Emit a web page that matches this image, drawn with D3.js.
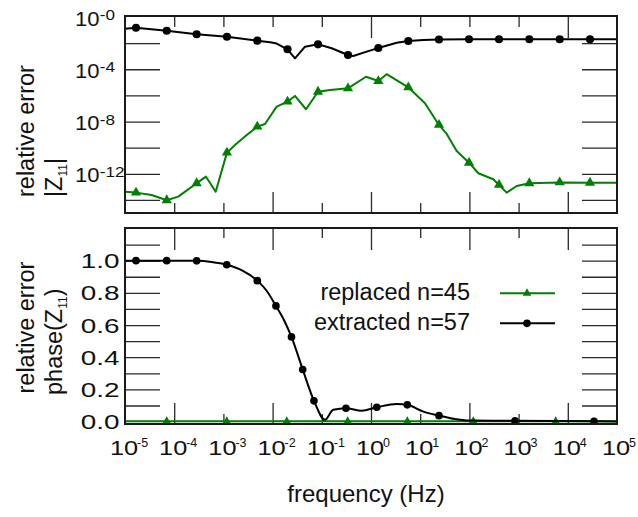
<!DOCTYPE html>
<html>
<head>
<meta charset="utf-8">
<script src="https://cdn.jsdelivr.net/npm/d3@7"></script>
<style>
  body { margin: 0; background: #fff; }
  text { font-family: "Liberation Sans", Arial, Helvetica, sans-serif; fill: #111; }
</style>
</head>
<body>
<svg id="chart" width="638" height="517"></svg>
<script>
// ---- data -------------------------------------------------------------

// shared frequency axis (Hz), one label per decade
const freqDecades = [1e-5, 1e-4, 1e-3, 1e-2, 1e-1, 1e0, 1e1, 1e2, 1e3, 1e4, 1e5];
const freqExponents = ["-5", "-4", "-3", "-2", "-1", "0", "1", "2", "3", "4", "5"];

// |Z11| panel: labelled ticks and their exponent text
const magLabelValues = [1, 1e-4, 1e-8, 1e-12];
const magExponents = ["-0", "-4", "-8", "-12"];
const magTickValues = [1e-2, 1e-4, 1e-6, 1e-8, 1e-10, 1e-12, 1e-14];

// phase panel ticks
const phaseLabelValues = [0, 0.2, 0.4, 0.6, 0.8, 1.0];
const phaseLabels = ["0.0", "0.2", "0.4", "0.6", "0.8", "1.0"];
const phaseTickValues = [0.1, 0.2, 0.3, 0.4, 0.5, 0.6, 0.7, 0.8, 0.9, 1.0, 1.1];

// relative error of |Z11|, extracted model (n=57)
const extractedMagFreq = [1e-5, 1.675e-5, 7.05e-5, 2.86e-4, 1.18e-3, 4.89e-3, 8.91e-3, 1.21e-2, 2.01e-2,
  2.85e-2, 4.56e-2, 8.38e-2, 0.159, 0.341, 0.437, 0.818, 1.41, 3.33, 5.73, 11.6, 24.1, 98.2, 400, 1652,
  6840, 28250, 1e5];
const extractedMag = [0.126, 0.149, 0.0891, 0.0479, 0.0309, 0.0155, 0.0117, 0.00933, 0.00339,
  6.92e-4, 5.37e-3, 8.13e-3, 4.07e-3, 1.23e-3, 1.05e-3, 2.24e-3, 4.27e-3, 0.0107, 0.0145, 0.0174, 0.0191,
  0.0200, 0.0200, 0.0200, 0.0200, 0.0200, 0.0200];

// relative error of |Z11|, replaced model (n=45)
const replacedMagFreq = [1e-5, 1.675e-5, 3.49e-5, 7.05e-5, 1.21e-4, 2.86e-4, 4.43e-4, 6.97e-4, 1.18e-3,
  1.72e-3, 2.98e-3, 4.89e-3, 7.01e-3, 1.21e-2, 2.01e-2, 2.85e-2, 4.78e-2, 8.38e-2, 0.147, 0.341, 0.791,
  1.41, 2.08, 5.73, 12.5, 24.1, 34.6, 55.2, 98.2, 152, 306, 400, 573, 914, 1652, 6840, 28250, 1e5];
const replacedMag = [4.27e-14, 3.63e-14, 2.40e-14, 9.55e-15, 1.78e-14, 1.91e-13, 6.03e-13, 4.27e-14, 4.17e-11,
  1.62e-10, 9.33e-10, 4.07e-9, 6.46e-9, 1.38e-7, 3.31e-7, 9.12e-7, 8.71e-8, 1.91e-6, 2.57e-6, 3.47e-6, 2.69e-5,
  1.26e-5, 4.17e-5, 4.17e-6, 2.51e-7, 5.50e-9, 1.12e-9, 5.62e-11, 7.08e-12, 1.10e-12, 3.80e-13, 1.41e-13, 3.63e-14,
  1.17e-13, 1.91e-13, 2.19e-13, 2.09e-13, 2.09e-13];

// frequencies that carry a point symbol in the |Z11| panel
const magMarkFreq = [1.675e-5, 7.05e-5, 2.86e-4, 1.18e-3, 4.89e-3, 2.01e-2, 8.38e-2, 0.341, 1.41, 5.73,
  24.1, 98.2, 400, 1652, 6840, 28250];

// relative error of phase(Z11), extracted model
const extractedPhaseFreq = [1e-5, 1.675e-5, 7.05e-5, 2.86e-4, 5.73e-4, 1.17e-3, 2.39e-3, 4.89e-3, 7.69e-3,
  1.17e-2, 1.71e-2, 2.42e-2, 4.09e-2, 6.93e-2, 0.116, 0.171, 0.310, 0.647, 1.31, 3.33, 5.47, 11.6, 24.1,
  47.1, 103, 845, 34100, 1e5];
const extractedPhase = [1.0, 1.0, 1.0, 0.999, 0.992, 0.975, 0.94, 0.876, 0.81, 0.719, 0.63, 0.526, 0.324,
  0.129, 0.011, 0.073, 0.083, 0.068, 0.089, 0.110, 0.104, 0.062, 0.037, 0.017, 0.006, 0.005, 0.002, 0.001];
const extractedPhaseMarkFreq = [1.675e-5, 7.05e-5, 2.86e-4, 1.17e-3, 4.89e-3, 1.17e-2, 2.42e-2, 4.09e-2,
  6.93e-2, 0.310, 1.31, 5.47, 24.1, 845, 34100];

// relative error of phase(Z11), replaced model
const replacedPhaseFreq = [1e-5, 7.05e-5, 1.17e-3, 1.94e-2, 0.336, 5.47, 120, 5675, 1e5];
const replacedPhase = [0.002, 0.002, 0.002, 0.002, 0.002, 0.002, 0.002, 0.002, 0.002];
const replacedPhaseMarkFreq = [7.05e-5, 1.17e-3, 1.94e-2, 0.336, 5.47, 120, 5675];

const seriesNames = ["replaced n=45", "extracted n=57"];

// ---- layout ------------------------------------------------------------
const GREEN = "#008000", BLACK = "#000";
const plotL = 125, plotR = 617;
const magT = 16, magB = 213, phT = 228, phB = 424;

const svg = d3.select("#chart");

const x = d3.scaleLog().domain([1e-5, 1e5]).range([plotL, plotR]);
const yMag = d3.scaleLog().domain([1e-15, 1]).range([213, 17]);
const yPh = d3.scaleLinear().domain([-0.015, 1.2]).range([424, 228.5]);

const pts = (fs, vs) => fs.map((f, i) => ({ f, v: vs[i] }));
const marks = (fs, vs, keep) => pts(fs, vs).filter(d => keep.includes(d.f));

// ---- tick marks ---------------------------------------------------------
const inner = freqDecades.slice(1, -1);
const TICK = "#2a2a2a";

function tickAxis(axis, tx, ty, lenFn) {
  const g = svg.append("g").attr("transform", `translate(${tx},${ty})`).call(axis);
  g.select(".domain").remove();
  g.selectAll("line").attr("stroke", TICK).attr("stroke-width", 1.3);
  if (lenFn) g.selectAll(".tick line").attr("y2", lenFn);
  return g;
}

// |Z11| panel ticks
tickAxis(d3.axisLeft(yMag).tickValues(magTickValues).tickSize(-35).tickFormat(""), plotL, 0);
tickAxis(d3.axisRight(yMag).tickValues(magTickValues).tickSize(-35).tickFormat(""), plotR, 0);
tickAxis(d3.axisTop(x).tickValues(inner).tickSize(-11).tickFormat(""), 0, magT,
  d => (d === 1 || d === 1e4) ? 22 : 11);
tickAxis(d3.axisBottom(x).tickValues(inner).tickSize(-10).tickFormat(""), 0, magB,
  d => [1e-2, 1, 1e2, 1e4].includes(d) ? -21 : -10);

// phase panel ticks
const evenDecade = d => Math.round(Math.log10(d)) % 2 === 0;
tickAxis(d3.axisLeft(yPh).tickValues(phaseTickValues).tickSize(-35).tickFormat(""), plotL, 0);
tickAxis(d3.axisRight(yPh).tickValues(phaseTickValues).tickSize(-35).tickFormat(""), plotR, 0);
tickAxis(d3.axisTop(x).tickValues(inner).tickSize(-11).tickFormat(""), 0, phT,
  d => evenDecade(d) ? 22 : 10);
tickAxis(d3.axisBottom(x).tickValues(inner).tickSize(-10).tickFormat(""), 0, phB,
  d => evenDecade(d) ? -21 : -10);

// ---- tick labels ----------------------------------------------------------
// |Z11| labels: 10 with a raised exponent, left aligned
const magLab = svg.append("g").attr("transform", `translate(${plotL},0)`)
  .call(d3.axisLeft(yMag).tickValues(magLabelValues).tickSize(0).tickFormat(""));
magLab.select(".domain").remove();
magLab.selectAll(".tick").each(function (d, i) {
  const t = d3.select(this);
  t.append("text").attr("transform", "translate(-50,8) scale(1.13,1)")
    .attr("text-anchor", "start").style("font-size", "19.5px").text("10");
  t.append("text").attr("transform", "translate(-25.3,2.5) scale(1.22,1)")
    .attr("text-anchor", "start").style("font-size", "14px").text(magExponents[i]);
});

// phase labels
const phLab = svg.append("g").attr("transform", `translate(${plotL},0)`)
  .call(d3.axisLeft(yPh).tickValues(phaseLabelValues).tickSize(0).tickFormat(""));
phLab.select(".domain").remove();
phLab.selectAll(".tick").each(function (d, i) {
  d3.select(this).append("text").attr("transform", "translate(-5.5,7) scale(1.43,1)")
    .attr("text-anchor", "end").style("font-size", "19.5px").text(phaseLabels[i]);
});

// frequency labels
const fLab = svg.append("g").attr("transform", `translate(0,${phB})`)
  .call(d3.axisBottom(x).tickValues(freqDecades).tickSize(0).tickFormat(""));
fLab.select(".domain").remove();
fLab.selectAll(".tick").each(function (d, i) {
  const t = d3.select(this);
  t.append("text").attr("transform", "translate(-1.5,31) scale(1.3,1)")
    .attr("text-anchor", "middle").style("font-size", "19.5px").text("10");
  t.append("text").attr("transform", "translate(11.5,23.3)")
    .attr("text-anchor", "start").style("font-size", "12.5px").text(freqExponents[i]);
});

// ---- axis titles ----------------------------------------------------------
function vTitle(tx, ty) {
  return svg.append("text").attr("transform", `translate(${tx},${ty}) rotate(-90)`)
    .attr("text-anchor", "start").style("font-size", "23.5px");
}
vTitle(33.5, 197).text("relative error");
const zt = vTitle(61.7, 197);
zt.append("tspan").text("|Z");
zt.append("tspan").attr("dy", 5).style("font-size", "12px").text("11");
zt.append("tspan").attr("dy", -5).text("|");

vTitle(33.5, 393.5).text("relative error");
const pt = vTitle(61.7, 395);
pt.append("tspan").text("phase(Z");
pt.append("tspan").attr("dy", 5).style("font-size", "12px").text("11");
pt.append("tspan").attr("dy", -5).text(")");

svg.append("text").attr("x", 366).attr("y", 502).attr("text-anchor", "middle")
  .style("font-size", "24px").text("frequency (Hz)");

// ---- series -------------------------------------------------------------------
const tri = d3.symbol().type(d3.symbolTriangle);
const dot = d3.symbol().type(d3.symbolCircle);

function drawSeries(data, markData, y, color, curve, sym, size) {
  const line = d3.line().x(d => x(d.f)).y(d => y(d.v)).curve(curve);
  svg.append("path").datum(data).attr("d", line)
    .attr("fill", "none").attr("stroke", color).attr("stroke-width", 2)
    .attr("stroke-linejoin", "round");
  svg.append("g").selectAll("path").data(markData).join("path")
    .attr("transform", d => `translate(${x(d.f)},${y(d.v)})`)
    .attr("d", sym.size(size)()).attr("fill", color);
}

// |Z11| panel
drawSeries(pts(replacedMagFreq, replacedMag), marks(replacedMagFreq, replacedMag, magMarkFreq),
  yMag, GREEN, d3.curveLinear, tri, 45);
drawSeries(pts(extractedMagFreq, extractedMag), marks(extractedMagFreq, extractedMag, magMarkFreq),
  yMag, BLACK, d3.curveLinear, dot, 52);

// phase panel
drawSeries(pts(replacedPhaseFreq, replacedPhase), marks(replacedPhaseFreq, replacedPhase, replacedPhaseMarkFreq),
  yPh, GREEN, d3.curveLinear, tri, 32);
drawSeries(pts(extractedPhaseFreq, extractedPhase), marks(extractedPhaseFreq, extractedPhase, extractedPhaseMarkFreq),
  yPh, BLACK, d3.curveMonotoneX, dot, 46);

// ---- frames ------------------------------------------------------------------
[[magT, magB], [phT, phB]].forEach(([t, b]) => {
  svg.append("rect").attr("x", plotL).attr("y", t).attr("width", plotR - plotL).attr("height", b - t)
    .attr("fill", "none").attr("stroke", "#1a1a1a").attr("stroke-width", 2);
});

// ---- legend ------------------------------------------------------------------
const legend = svg.append("g");
[[GREEN, tri, 32], [BLACK, dot, 46]].forEach(([color, sym, size], i) => {
  const ly = 293.3 + i * 30;
  legend.append("text").attr("x", 470).attr("y", ly + 7).attr("text-anchor", "end")
    .style("font-size", "23.5px").text(seriesNames[i]);
  legend.append("line").attr("x1", 500).attr("x2", 555).attr("y1", ly).attr("y2", ly)
    .attr("stroke", color).attr("stroke-width", 2);
  legend.append("path").attr("transform", `translate(527,${ly})`).attr("d", sym.size(size)())
    .attr("fill", color);
});
</script>
</body>
</html>
